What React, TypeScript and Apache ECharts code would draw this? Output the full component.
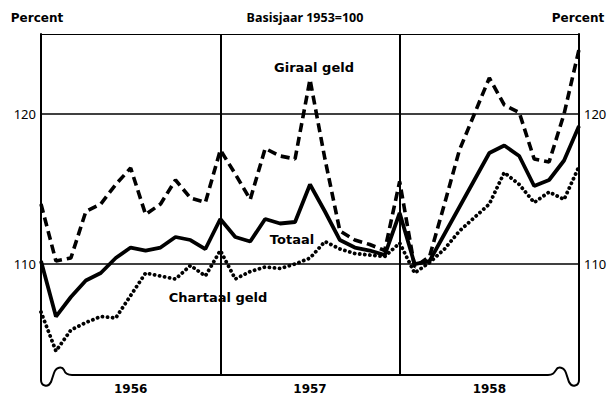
import React, { useEffect, useRef } from "react";
import * as echarts from "echarts";

const months: string[] = [
  "1955-12",
  "1956-01", "1956-02", "1956-03", "1956-04", "1956-05", "1956-06",
  "1956-07", "1956-08", "1956-09", "1956-10", "1956-11", "1956-12",
  "1957-01", "1957-02", "1957-03", "1957-04", "1957-05", "1957-06",
  "1957-07", "1957-08", "1957-09", "1957-10", "1957-11", "1957-12",
  "1958-01", "1958-02", "1958-03", "1958-04", "1958-05", "1958-06",
  "1958-07", "1958-08", "1958-09", "1958-10", "1958-11", "1958-12",
];

const yearLabels: string[] = ["1956", "1957", "1958"];

const totaal: number[] = [
  110.2, 106.5, 107.8, 108.9, 109.4, 110.4, 111.1, 110.9, 111.1, 111.8, 111.6, 111.0,
  113.0, 111.8, 111.5, 113.0, 112.7, 112.8, 115.3, 113.5, 111.6, 111.1, 110.9, 110.6,
  113.4, 110.0, 110.2, 112.0, 113.8, 115.6, 117.4, 117.9, 117.2, 115.2, 115.6, 116.9,
  119.2,
];

const giraal: number[] = [
  114.0, 110.2, 110.4, 113.5, 114.0, 115.3, 116.4, 113.3, 114.0, 115.6, 114.4, 114.1,
  117.6, 116.0, 114.3, 117.7, 117.2, 117.0, 122.3, 117.0, 112.2, 111.6, 111.3, 110.9,
  115.5, 109.8, 110.5, 114.0, 117.6, 120.0, 122.4, 120.6, 120.1, 117.0, 116.8, 120.0,
  124.3,
];

const chartaal: number[] = [
  106.8, 104.2, 105.6, 106.1, 106.5, 106.4, 107.9, 109.4, 109.2, 109.0, 109.9, 109.2,
  110.9, 109.0, 109.5, 109.8, 109.7, 110.0, 110.4, 111.5, 111.0, 110.7, 110.6, 110.5,
  111.4, 109.4, 110.1, 111.0, 112.2, 113.1, 114.0, 116.1, 115.3, 114.1, 114.8, 114.3,
  116.5,
];

const yTickLabels: number[] = [110, 120];
const yearBoundaries: number[] = [12, 24];

const curlPath =
  "M41 372 L41 380 C41 386 48 388 51 382 L54 373 C56 367 62 366 64 370 C65 373 67 375 72 375 " +
  "L548 375 C553 375 554 373 556 370 C558 366 564 367 566 373 L569 382 C572 388 579 386 579 380 L579 372";

let registered = false;

export default function App() {
  const ref = useRef<HTMLDivElement>(null);

  useEffect(() => {
    if (!ref.current) return;
    if (!registered) {
      echarts.graphic.registerShape("frameCurl", echarts.graphic.extendPath(curlPath, {}));
      registered = true;
    }
    const chart = echarts.init(ref.current, null, { renderer: "svg" });
    const font = '"Noto Sans", "DejaVu Sans", sans-serif';
    const wide = '"DejaVu Sans", sans-serif';
    const yMin = 102.67;
    const yMax = 125.33;

    const yAxisBase = {
      type: "value",
      min: yMin,
      max: yMax,
      splitLine: { show: false },
      axisTick: { show: false },
      axisLine: { show: true, lineStyle: { color: "#000", width: 2 } },
      axisLabel: {
        customValues: yTickLabels,
        color: "#000",
        fontFamily: font,
        fontSize: 13,
        margin: 5,
      },
    };

    const label = (text: string, x: number, y: number, f: string) => ({
      type: "text",
      x,
      y,
      silent: true,
      style: { text, font: f, fill: "#000", textAlign: "center", textVerticalAlign: "middle" },
    });

    chart.setOption({
      animation: false,
      backgroundColor: "#fff",
      grid: { left: 41, right: 32, top: 34, bottom: 26, containLabel: false },
      xAxis: [
        {
          type: "category",
          data: months,
          boundaryGap: false,
          axisLine: { show: false },
          axisTick: { show: false },
          splitLine: {
            show: true,
            interval: (idx: number) => yearBoundaries.indexOf(idx) >= 0,
            lineStyle: { color: "#000", width: 2 },
          },
          axisLabel: {
            interval: (idx: number) => idx % 12 === 6,
            formatter: (_v: string, idx: number) => yearLabels[(idx - 6) / 12] ?? "",
            color: "#000",
            fontFamily: wide,
            fontWeight: "bold",
            fontSize: 12,
            margin: 9,
          },
        },
        {
          type: "category",
          data: months,
          boundaryGap: false,
          position: "top",
          axisLine: { show: true, lineStyle: { color: "#000", width: 1.2 } },
          axisTick: { show: false },
          axisLabel: { show: false },
          splitLine: { show: false },
        },
      ],
      yAxis: [
        { ...yAxisBase, position: "left" },
        { ...yAxisBase, position: "right" },
      ],
      series: [
        {
          name: "Chartaal geld",
          type: "line",
          data: chartaal,
          symbol: "none",
          lineStyle: { color: "#000", width: 3.8, type: [0.1, 5], cap: "round" },
          markLine: {
            silent: true,
            symbol: "none",
            label: { show: false },
            lineStyle: { color: "#000", width: 1.6, type: "solid" },
            data: yTickLabels.map((v) => ({ yAxis: v })),
          },
        },
        {
          name: "Giraal geld",
          type: "line",
          data: giraal,
          symbol: "none",
          lineStyle: { color: "#000", width: 3.6, type: [9, 5] },
        },
        {
          name: "Totaal",
          type: "line",
          data: totaal,
          symbol: "none",
          lineStyle: { color: "#000", width: 3.8, type: "solid" },
        },
      ],
      graphic: [
        {
          type: "frameCurl",
          x: 0,
          y: 0,
          silent: true,
          style: { fill: "none", stroke: "#000", lineWidth: 2 },
        },
        label("Percent", 37, 18, `bold 12px ${wide}`),
        label("Percent", 578, 18, `bold 12px ${wide}`),
        label("Basisjaar 1953=100", 305, 17, `bold 12.5px ${font}`),
        label("Giraal geld", 314, 67, `bold 13px ${wide}`),
        label("Totaal", 292, 239, `bold 13px ${wide}`),
        label("Chartaal geld", 218, 297, `bold 13px ${wide}`),
      ],
    });
    return () => chart.dispose();
  }, []);

  return <div ref={ref} style={{ width: 611, height: 400, position: "absolute", left: 0, top: 0 }} />;
}
